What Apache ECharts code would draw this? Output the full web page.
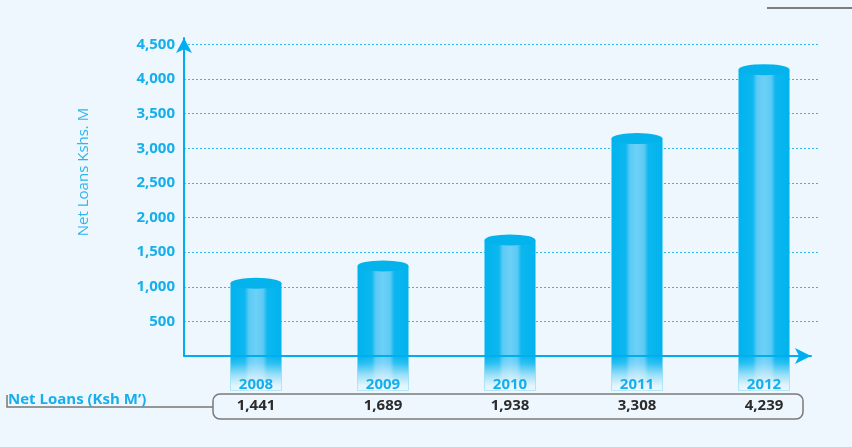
<!DOCTYPE html>
<html><head><meta charset="utf-8">
<script src="https://cdn.jsdelivr.net/npm/echarts@6/dist/echarts.min.js"></script>
<style>html,body{margin:0;padding:0;background:#edf7fd;}#c{width:852px;height:447px;}</style>
</head><body><div id="c"></div>
<script>
// Data
const categories = ['2008', '2009', '2010', '2011', '2012'];
const netLoansTable = ['1,441', '1,689', '1,938', '3,308', '4,239'];   // values printed in the table row
const barHeights = [1050, 1300, 1675, 3140, 4135];                     // bar heights as drawn on the value axis
const yAxisName = 'Net Loans Kshs. M';
const rowLabel = 'Net Loans (Ksh M\u2019)';
const yMin = 0, yMax = 4650, yInterval = 500, fadeDepth = -500;

const BG = '#edf7fd';
const CYAN = '#00aeef';
const bodyGrad = new echarts.graphic.LinearGradient(0, 0, 1, 0, [
  {offset: 0, color: '#00b3ee'}, {offset: 0.28, color: '#0db7ef'},
  {offset: 0.36, color: '#5ccaf5'}, {offset: 0.5, color: '#6dd0f7'},
  {offset: 0.64, color: '#5ccaf5'}, {offset: 0.72, color: '#0db7ef'},
  {offset: 1, color: '#00b3ee'}]);
const fadeGrad = new echarts.graphic.LinearGradient(0, 0, 0, 1, [
  {offset: 0, color: 'rgba(237,247,253,0)'}, {offset: 0.2, color: 'rgba(237,247,253,0.15)'},
  {offset: 0.55, color: 'rgba(237,247,253,0.65)'}, {offset: 0.85, color: 'rgba(237,247,253,0.95)'},
  {offset: 1, color: 'rgba(237,247,253,1)'}]);

const chart = echarts.init(document.getElementById('c'), null, {renderer: 'canvas'});
const fmt = v => v.toLocaleString('en-US');

chart.setOption({
  backgroundColor: BG,
  animation: false,
  textStyle: {fontFamily: 'Open Sans'},
  grid: [
    {left: 192.5, width: 635, top: 34, bottom: 56.4},   // bars
    {left: 184, width: 634, top: 34, bottom: 91},      // labels + gridlines
    {left: 184, width: 627, top: 38, bottom: 91}       // axis lines with arrows
  ],
  xAxis: [
    {gridIndex: 0, type: 'category', data: categories, z: 10,
      axisLine: {show: false, onZero: false}, axisTick: {show: false},
      axisLabel: {margin: -15.6, interval: 0,
        formatter: (v, i) => '{y|' + v + '}\n{v|' + netLoansTable[i] + '}',
        rich: {
          y: {fontFamily: 'Open Sans', fontWeight: 'bold', fontSize: 15, color: '#16afeb', lineHeight: 20},
          v: {fontFamily: 'Open Sans', fontWeight: 'bold', fontSize: 15, color: '#2b2b2b', lineHeight: 22}
        }}},
    {gridIndex: 1, type: 'value', min: 0, max: 1, show: false},
    {gridIndex: 2, type: 'value', min: 0, max: 1, z: 5,
      axisLine: {show: true, onZero: true, symbol: ['none', 'arrow'], symbolSize: [12, 16],
        lineStyle: {color: CYAN, width: 2}},
      axisTick: {show: false}, axisLabel: {show: false}, splitLine: {show: false}}
  ],
  yAxis: [
    {gridIndex: 0, type: 'value', min: fadeDepth, max: yMax, show: false},
    {gridIndex: 1, type: 'value', min: yMin, max: yMax, interval: yInterval,
      axisLine: {show: false}, axisTick: {show: false},
      axisLabel: {margin: 9, color: '#16afeb', fontFamily: 'Open Sans', fontWeight: 'bold', fontSize: 15,
        formatter: v => v > 0 ? fmt(v) : ''},
      splitLine: {show: true, showMinLine: false, showMaxLine: false,
        lineStyle: {color: '#2fb8ee', width: 1, type: [2, 2]}}},
    {gridIndex: 2, type: 'value', min: 0, max: 1, z: 5,
      axisLine: {show: true, onZero: true, symbol: ['none', 'arrow'], symbolSize: [12, 15],
        lineStyle: {color: CYAN, width: 2}},
      axisTick: {show: false}, axisLabel: {show: false}, splitLine: {show: false}}
  ],
  series: [
    {type: 'bar', xAxisIndex: 0, yAxisIndex: 0, data: barHeights, barWidth: 51, barGap: '-100%',
      itemStyle: {color: bodyGrad}, z: 2},
    {type: 'bar', xAxisIndex: 0, yAxisIndex: 0, data: barHeights.map(() => fadeDepth), barWidth: 51, barGap: '-100%',
      itemStyle: {color: bodyGrad}, z: 2},
    {type: 'bar', xAxisIndex: 0, yAxisIndex: 0, data: barHeights.map(() => fadeDepth), barWidth: 51, barGap: '-100%',
      itemStyle: {color: fadeGrad}, z: 3},
    {type: 'pictorialBar', xAxisIndex: 0, yAxisIndex: 0, data: barHeights, symbol: 'circle',
      symbolSize: [51, 11], symbolPosition: 'end', symbolOffset: [0, '-50%'], z: 4,
      itemStyle: {color: '#04b2ec'}}
  ],
  graphic: [
    {type: 'text', x: 84, y: 172, rotation: Math.PI / 2,
      style: {text: yAxisName, fill: '#2db6ed', font: '15px "Open Sans"', align: 'center', verticalAlign: 'middle'}},
    {type: 'rect', shape: {x: 213, y: 394, width: 590, height: 25, r: 7},
      style: {fill: 'none', stroke: '#7a7a7a', lineWidth: 1.5}},
    {type: 'polyline', shape: {points: [[7, 395], [7, 407], [213, 407]]},
      style: {fill: 'none', stroke: '#777', lineWidth: 1.5}},
    {type: 'text', x: 8, y: 400,
      style: {text: rowLabel, fill: '#16afeb', font: 'bold 15px "Open Sans"', align: 'left', verticalAlign: 'middle'}},
    {type: 'line', shape: {x1: 767, y1: 8, x2: 852, y2: 8}, style: {stroke: '#555', lineWidth: 1.5}}
  ]
});
</script></body></html>
